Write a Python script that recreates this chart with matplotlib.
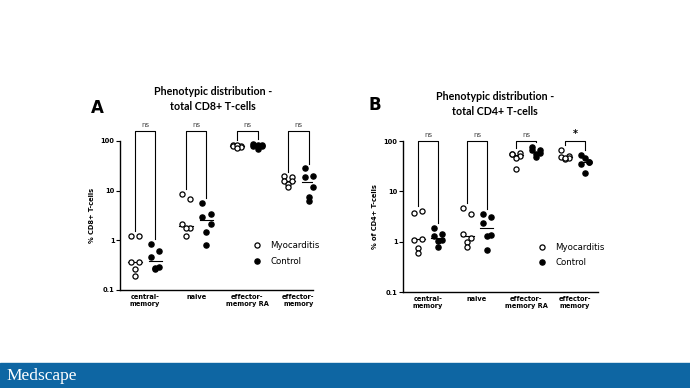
import numpy as np
import matplotlib
matplotlib.use("Agg")
import matplotlib.pyplot as plt
from matplotlib.patches import Rectangle
from matplotlib.lines import Line2D

categories = ["central-\nmemory", "naive", "effector-\nmemory RA", "effector-\nmemory"]
groups = ["Myocarditis", "Control"]

# % CD8+ T-cells, six patients per group
cd8_myo = [
    [1.25, 1.25, 0.36, 0.36, 0.27, 0.19],
    [8.6, 6.8, 2.1, 1.8, 1.8, 1.25],
    [85, 80, 78, 75, 82, 72],
    [19.3, 18.6, 15.8, 15.4, 13.6, 11.7],
]
cd8_ctrl = [
    [0.86, 0.62, 0.46, 0.29, 0.27, 0.28],
    [5.75, 3.4, 3.0, 2.1, 1.47, 0.82],
    [88, 85, 80, 78, 82, 68],
    [28, 20, 18.6, 11.7, 7.4, 6.1],
]
cd8_sig = ["ns", "ns", "ns", "ns"]

# % of CD4+ T-cells
cd4_myo = [
    [3.8, 4.1, 1.1, 1.15, 0.75, 0.6],
    [4.7, 3.6, 1.44, 1.2, 0.97, 0.8],
    [56, 59, 55, 51, 46, 28],
    [68, 50, 48, 46, 44, 47],
]
cd4_ctrl = [
    [1.9, 1.4, 1.3, 1.1, 1.05, 0.78],
    [3.55, 3.05, 2.35, 1.38, 1.28, 0.69],
    [76, 66, 65, 58, 55, 48],
    [53, 38, 35.6, 39, 46, 23],
]
cd4_sig = ["ns", "ns", "ns", "*"]

fig = plt.figure(figsize=(6.9, 3.88), dpi=100)
fig.patch.set_facecolor("white")

title_font = ["Lato", "DejaVu Sans"]
jit = np.array([-0.08, 0.08, -0.08, 0.08, 0.0, 0.0])
off = 0.2
ms = 3.7


def panel(ax, myo, ctrl, sig, ylabel, xlim, br_top):
    ax.set_yscale("log")
    ax.set_ylim(0.1, 100)
    ax.set_xlim(*xlim)
    for i in range(len(categories)):
        m = np.array(myo[i])
        c = np.array(ctrl[i])
        ax.plot(i - off + jit, m, "o", ms=ms, mfc="white", mec="black", mew=0.9, clip_on=False, zorder=3)
        ax.plot(i + off + jit, c, "o", ms=ms, mfc="black", mec="black", clip_on=False, zorder=3)
        ax.plot([i - off - 0.13, i - off + 0.13], [np.median(m)] * 2, color="black", lw=0.8, zorder=2)
        ax.plot([i + off - 0.13, i + off + 0.13], [np.median(c)] * 2, color="black", lw=0.8, zorder=2)
        lo1 = m.max() * 1.25
        lo2 = c.max() * 1.25
        ax.plot([i - off, i - off, i + off, i + off], [lo1, br_top, br_top, lo2],
                color="black", lw=0.8, clip_on=False)
        if sig[i] == "*":
            ax.text(i, br_top * 1.1, "*", ha="center", va="bottom", fontsize=7, fontweight="bold")
        else:
            ax.text(i, br_top * 1.15, sig[i], ha="center", va="bottom", fontsize=5, color="#444444")
    ax.set_yticks([0.1, 1, 10, 100])
    ax.set_yticklabels(["0.1", "1", "10", "100"])
    ax.minorticks_off()
    ax.set_xticks(range(len(categories)))
    ax.set_xticklabels(categories, fontsize=4.8, fontweight="bold", linespacing=1.1)
    ax.tick_params(axis="x", length=0, pad=3)
    ax.tick_params(axis="y", length=3, width=0.8, labelsize=4.8, pad=1)
    for t in ax.get_yticklabels():
        t.set_fontweight("bold")
    ax.spines["top"].set_visible(False)
    ax.spines["right"].set_visible(False)
    ax.spines["left"].set_linewidth(1.0)
    ax.spines["bottom"].set_linewidth(1.0)
    ax.set_ylabel(ylabel, fontsize=4.8, fontweight="bold", labelpad=4)
    handles = [
        Line2D([], [], marker="o", ls="", ms=ms, mfc="white", mec="black", mew=0.9),
        Line2D([], [], marker="o", ls="", ms=ms, mfc="black", mec="black"),
    ]
    ax.legend(handles, groups, loc="lower right", bbox_to_anchor=(1.05, 0.14), frameon=False,
              fontsize=6.2, handletextpad=0.5, labelspacing=0.75, borderaxespad=0)


axA = fig.add_axes([0.174, 0.2526, 0.280, 0.384])
panel(axA, cd8_myo, cd8_ctrl, cd8_sig, "% CD8+ T-cells", (-0.49, 3.29), 160)
axB = fig.add_axes([0.584, 0.2474, 0.283, 0.389])
panel(axB, cd4_myo, cd4_ctrl, cd4_sig, "% of CD4+ T-cells", (-0.51, 3.47), 100)

fig.text(213 / 690, 1 - 99 / 388, "Phenotypic distribution -\ntotal CD8+ T-cells", ha="center", va="center",
         fontsize=7.7, fontweight="bold", linespacing=1.4, family=title_font)
fig.text(495 / 690, 1 - 104 / 388, "Phenotypic distribution -\ntotal CD4+ T-cells", ha="center", va="center",
         fontsize=7.7, fontweight="bold", linespacing=1.4, family=title_font)
fig.text(97 / 690, 1 - 108 / 388, "A", ha="center", va="center", fontsize=12, fontweight="bold")
fig.text(375 / 690, 1 - 105 / 388, "B", ha="center", va="center", fontsize=12, fontweight="bold")

# Medscape banner
fig.patches.append(Rectangle((0, 0), 1, 25 / 388, transform=fig.transFigure, color="#0e66a3", zorder=0))
fig.text(6 / 690, 12 / 388, "Medscape", ha="left", va="center", fontsize=12.5, color="white",
         family="Liberation Serif")

fig.savefig("out.png", dpi=100)
